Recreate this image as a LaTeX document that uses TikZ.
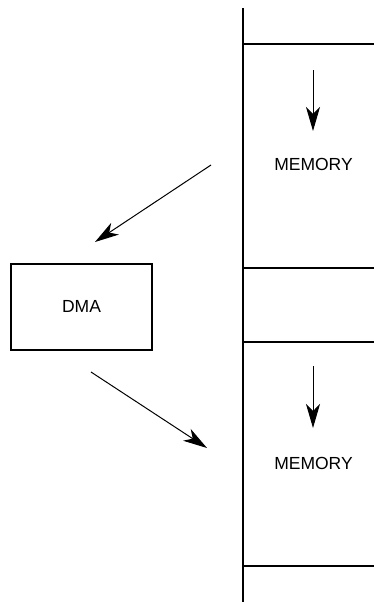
\documentclass[tikz,border=0pt]{standalone}
\usepackage{fontspec}
\setmainfont{Liberation Sans}
\usetikzlibrary{arrows.meta}
\begin{document}
\begin{tikzpicture}[x=1pt,y=-1pt,
  thick line/.style={line width=2pt},
  flow/.style={line width=1pt,-{Stealth[length=24pt,width=14pt,inset=7pt]}},
  lbl/.style={font=\fontsize{17.5}{19}\selectfont,inner sep=0pt}]
\useasboundingbox (0,0) rectangle (374,602);
% memory column
\draw[thick line] (243,8) -- (243,602);
\foreach \yy in {44,268,342,566} \draw[thick line] (242,\yy) -- (374,\yy);
% DMA box
\node[draw,line width=2pt,minimum width=141pt,minimum height=86pt,inner sep=0pt,lbl] (dma) at (81.5,306.5) {DMA};
% memory labels
\node[lbl] (mem1) at (313.5,164.5) {MEMORY};
\node[lbl] (mem2) at (313.5,463.5) {MEMORY};
% internal arrows
\coordinate (a1s) at (313,70);
\coordinate (a1e) at (313,131);
\coordinate (a2s) at (313,366);
\coordinate (a2e) at (313,428);
\draw[flow] (a1s) -- (a1e);
\draw[flow] (a2s) -- (a2e);
% transfer arrows
\coordinate (t1s) at (211,165);
\coordinate (t1e) at (95,242);
\coordinate (t2s) at (91,372);
\coordinate (t2e) at (207,448);
\draw[flow] (t1s) -- (t1e);
\draw[flow] (t2s) -- (t2e);
\end{tikzpicture}
\end{document}
